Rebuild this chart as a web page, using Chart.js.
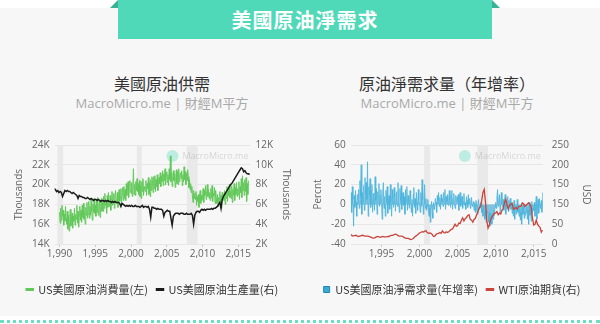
<!DOCTYPE html>
<html>
<head>
<meta charset="utf-8">
<script src="https://cdn.jsdelivr.net/npm/chart.js@4.4.1/dist/chart.umd.min.js"></script>
<style>
  body { margin: 0; width: 600px; height: 324px; background: #fff; position: relative; overflow: hidden;
         font-family: 'Noto Sans CJK TC', 'Open Sans', sans-serif; }
  .panel { position: absolute; left: 0; top: 8px; width: 600px; height: 308px; background: #f7f7f7; }
  .banner { position: absolute; left: 118px; top: 0; width: 374px; height: 39px; background: #4fd9b9;
            color: #fff; font-size: 20px; font-weight: bold; text-align: center; line-height: 39px; letter-spacing: 1px; }
  .fold-l { position: absolute; left: 110px; top: 0; width: 0; height: 0;
            border-bottom: 8px solid #37b294; border-left: 8px solid transparent; }
  .fold-r { position: absolute; left: 492px; top: 0; width: 0; height: 0;
            border-bottom: 8px solid #37b294; border-right: 8px solid transparent; }
  .title { position: absolute; top: 73px; width: 300px; text-align: center; font-size: 16px; line-height: 20px; color: #333; }
  .sub { position: absolute; top: 95px; width: 300px; text-align: center; font-size: 13px; line-height: 16px; color: #a9a9a9;
         font-family: 'Open Sans', 'Noto Sans CJK TC', sans-serif; }
  .box { position: absolute; top: 118px; width: 300px; height: 198px; }
  .dots { position: absolute; left: 0; top: 320px; width: 600px; border-top: 3px dotted #6fdcc6; }
</style>
</head>
<body>
<div class="panel"></div>
<div class="fold-l"></div>
<div class="fold-r"></div>
<div class="banner">美國原油淨需求</div>
<div class="title" style="left:12px">美國原油供需</div>
<div class="sub" style="left:12px">MacroMicro.me | 財經M平方</div>
<div class="title" style="left:297px">原油淨需求量（年增率）</div>
<div class="sub" style="left:297px">MacroMicro.me | 財經M平方</div>
<div class="box" style="left:0"><canvas id="supply" width="300" height="198"></canvas></div>
<div class="box" style="left:300px"><canvas id="netDemand" width="300" height="198"></canvas></div>
<div class="dots"></div>

<script>
// ---- left chart: US consumption (monthly from 1990), thousand b/d
const consumptionStart = 1990;
const consumption = [
  17.2,16.1,17.6,16.4,17.9,16.8,17.4,15.9,17.0,16.3,17.8,16.6,
  16.0,17.3,15.5,16.9,15.3,16.6,17.5,15.8,16.4,17.1,15.6,16.8,
  16.3,17.6,15.9,17.0,16.5,17.9,16.1,17.3,15.7,16.9,17.8,16.4,
  17.4,16.2,17.9,16.7,18.1,16.5,17.2,16.0,17.7,16.9,18.2,16.6,
  17.0,18.3,16.6,17.8,16.9,18.5,17.3,16.4,18.0,17.2,18.6,17.1,
  17.9,16.8,18.4,17.2,18.7,16.9,17.6,18.3,16.7,17.8,18.6,17.3,
  18.4,17.3,18.8,17.6,19.1,17.9,18.2,17.1,18.9,17.7,19.2,18.0,
  17.8,18.9,17.4,18.6,19.3,17.9,18.5,19.1,17.6,18.8,19.4,18.2,
  18.1,19.2,17.7,18.9,19.5,18.3,18.7,19.6,18.0,19.0,19.7,18.4,
  19.8,18.6,19.5,18.4,20.1,18.9,19.6,20.3,18.7,19.9,20.4,19.2,
  19.1,20.2,18.8,19.7,21.6,19.0,20.0,18.9,20.3,19.4,20.6,19.3,
  20.1,19.0,20.4,18.8,19.9,18.6,20.3,19.3,20.6,18.9,19.8,19.5,
  19.3,20.4,18.9,20.1,19.6,20.7,19.0,20.2,18.8,20.5,19.4,20.8,
  20.3,19.2,20.8,19.6,20.9,19.3,20.5,19.8,21.0,19.4,20.2,20.7,
  20.1,21.2,19.8,20.9,20.3,21.4,19.9,21.1,20.4,21.6,20.0,21.0,
  21.3,20.2,21.0,19.9,21.6,20.5,22.9,20.3,21.2,19.8,20.9,21.4,
  20.4,21.1,19.7,20.8,21.5,20.1,21.3,20.0,21.6,20.3,20.9,21.2,
  20.6,21.4,19.9,21.0,20.3,21.8,20.5,21.3,20.0,21.1,20.4,21.5,
  20.8,19.7,20.5,19.5,20.1,19.2,19.8,18.9,18.2,19.4,18.6,19.1,
  18.5,19.3,17.9,18.8,18.3,19.0,17.7,18.7,19.4,18.1,18.9,18.4,
  18.7,19.6,18.2,19.4,18.9,19.9,18.5,19.3,20.0,18.8,19.5,18.6,
  19.2,18.4,19.6,18.7,19.9,18.3,19.1,18.9,19.7,18.1,19.4,18.6,
  18.1,19.0,17.8,18.7,18.3,19.3,18.0,18.9,17.6,19.2,18.5,18.8,
  18.4,19.4,18.0,19.1,18.6,19.8,18.3,19.5,18.9,20.0,18.7,19.3,
  18.6,19.9,18.2,19.5,18.9,20.1,18.4,19.7,19.0,20.2,18.8,19.6,
  19.0,20.3,18.5,19.8,19.2,20.6,18.7,20.9,19.4,20.2,18.9,20.5,
  19.3,20.7,18.3,20.1,19.0,20.4
];

// US crude production, every two months from 1989.25, thousand b/d
const productionStart = 1989.25;
const production = [
  7.6,7.5,7.3,7.4,7.2,
  7.3,7.2,6.8,7.1,7.4,7.3,
  7.4,7.3,7.3,7.2,7.1,7.2,
  7.1,7.0,6.9,6.6,6.9,6.8,
  6.8,6.7,6.7,6.6,6.6,6.7,
  6.6,6.5,6.6,6.5,6.4,6.5,
  6.5,6.4,6.5,6.4,6.3,6.4,
  6.4,6.3,6.4,6.3,6.4,6.3,
  6.3,6.2,6.3,6.2,6.3,6.2,
  6.2,6.2,6.1,5.8,6.1,6.0,
  5.9,5.8,5.9,5.8,5.9,5.8,
  5.9,5.8,5.8,5.9,5.8,5.8,
  5.8,5.7,5.8,5.9,5.7,5.8,
  5.8,5.7,5.8,5.5,4.7,5.7,
  5.7,5.6,5.6,5.5,5.6,5.5,
  5.5,5.5,5.4,4.8,5.2,5.3,
  5.4,5.3,5.3,4.6,3.9,4.8,
  5.0,5.1,5.1,5.1,5.0,5.1,
  5.1,5.1,5.0,5.0,5.1,5.0,
  5.0,5.0,5.1,4.9,4.0,4.9,
  5.2,5.3,5.3,5.2,5.4,5.5,
  5.4,5.5,5.4,5.5,5.5,5.5,
  5.5,5.6,5.5,5.6,5.6,5.7,
  5.8,6.0,6.2,5.6,6.5,6.8,
  7.0,7.2,7.4,7.6,7.8,8.0,
  8.1,8.3,8.5,8.7,8.9,9.1,
  9.3,9.5,9.7,9.6,9.3,9.4,
  9.2,9.1,9.1,9.0
];

// ---- right chart: net demand YoY % (monthly from 1991) and WTI USD (every two months from 1991)
const netDemandStart = 1991;
const netDemandYoY = [
  12,-8,18,5,-22,9,-3,14,2,-12,10,6,
  15,-4,24,8,40,-10,12,3,19,-6,27,10,
  22,5,43,-12,18,9,26,-3,14,20,-8,11,
  10,-6,28,4,16,-10,13,7,21,-2,9,15,
  6,-15,12,22,-4,8,-12,14,3,18,-9,5,
  9,-5,20,2,-12,15,6,-3,17,8,-7,11,
  13,-2,22,6,-8,16,4,19,-5,10,12,-1,
  8,-10,15,3,18,-6,9,2,-4,14,6,-8,
  5,-12,10,17,-3,6,-9,12,1,-6,15,4,
  3,-8,12,-2,25,5,-10,8,20,-4,6,-6,
  -2,5,-7,-12,-4,-18,-6,3,-9,-14,2,-5,
  -3,6,2,-8,9,4,12,-2,7,-5,10,3,
  6,-2,12,4,15,-5,8,3,10,-1,7,14,
  5,-3,10,14,-5,6,11,2,-4,9,3,8,
  4,10,-6,7,12,-2,5,8,-4,3,11,-1,
  2,-5,8,4,-3,10,1,6,-4,3,7,-2,
  -1,3,-6,2,-8,4,-3,-10,1,5,-5,-2,
  -3,2,-8,-5,-12,-2,-9,-15,-6,-18,-10,-7,
  -12,-18,-8,-22,-14,-10,-20,-9,-15,-6,-11,-3,
  2,-4,8,15,-2,6,10,-8,4,12,1,-3,
  5,-6,3,10,-10,2,-4,8,-7,4,-2,6,
  -5,2,-9,-3,-12,4,-15,-6,-2,-10,5,-8,
  -6,-12,-4,-16,-8,-20,-3,-10,0,-14,-7,-11,
  -8,-3,-15,-6,-20,2,-11,-5,-17,3,-9,-4,
  -6,2,-12,-3,8,-15,-2,5,-9,6,-4,-1,
  4,-8,12
];

const wtiStart = 1991;
const wtiPrice = [
  24,20,21,21,22,20,
  19,20,21,22,21,20,
  20,20,19,18,17,15,
  15,16,18,19,18,17,
  18,19,18,18,18,19,
  19,21,22,22,24,25,
  24,21,20,20,20,19,
  16,15,14,14,13,11,
  12,14,17,20,22,25,
  28,29,31,30,32,34,
  29,27,28,27,24,19,
  20,24,26,27,29,27,
  33,29,28,31,29,31,
  34,37,38,44,50,45,
  46,53,52,60,66,58,
  64,67,72,74,62,60,
  55,62,65,74,80,92,
  94,110,130,138,105,60,
  40,48,62,68,72,78,
  78,82,74,78,76,85,
  90,105,113,98,88,98,
  100,103,88,90,92,88,
  94,95,95,104,102,95,
  98,101,104,100,93,66,
  48,50,60,50,45,42,
  30,35
];

const leftYears = [1990, 1995, 2000, 2005, 2010, 2015];
const rightYears = [1995, 2000, 2005, 2010, 2015];
const consumptionTicks = [14, 16, 18, 20, 22, 24];
const productionTicks = [2, 4, 6, 8, 10, 12];
const percentTicks = [-40, -20, 0, 20, 40, 60];
const usdTicks = [0, 50, 100, 150, 200, 250];
const usdTickLabels = ['0', '50', '150', '150', '200', '250'];
const leftRecessions = [[1989.7, 1990.5], [2000.8, 2001.5], [2007.8, 2009.3]];
const rightRecessions = [[2000.6, 2001.4], [2007.6, 2009.0]];

const LATIN = "'Open Sans', 'Noto Sans CJK TC', sans-serif";
const CJK = "'Noto Sans CJK TC', 'Open Sans', sans-serif";

function toPoints(start, step, values) {
  return values.map((v, i) => ({ x: start + i * step, y: v }));
}

function bandsAndMark(ranges) {
  return {
    id: 'bandsAndMark',
    beforeDatasetsDraw(chart) {
      const { ctx, chartArea: a, scales } = chart;
      ctx.save();
      ctx.fillStyle = '#e9e9e9';
      ranges.forEach(r => {
        const x1 = scales.x.getPixelForValue(r[0]);
        const x2 = scales.x.getPixelForValue(r[1]);
        ctx.fillRect(x1, a.top, x2 - x1, a.bottom - a.top);
      });
      // watermark
      const cx = a.right - 78, cy = a.top + 11;
      ctx.fillStyle = 'rgba(79, 217, 185, 0.35)';
      ctx.beginPath();
      ctx.arc(cx, cy, 6, 0, Math.PI * 2);
      ctx.fill();
      ctx.fillStyle = 'rgba(0, 0, 0, 0.14)';
      ctx.font = '9px ' + LATIN;
      ctx.textBaseline = 'middle';
      ctx.fillText('MacroMicro.me', cx + 10, cy);
      ctx.restore();
    }
  };
}

const legendOpts = {
  position: 'bottom',
  labels: {
    usePointStyle: true,
    boxHeight: 6,
    boxWidth: 6,
    padding: 9,
    color: '#333',
    font: { size: 11, family: CJK },
    generateLabels(chart) {
      return chart.data.datasets.map((ds, i) => ({
        text: ds.label,
        datasetIndex: i,
        fillStyle: ds.legendFill || ds.borderColor,
        strokeStyle: ds.legendStroke || ds.borderColor,
        lineWidth: ds.legendStyle === 'rect' ? 1 : 3,
        pointStyle: ds.legendStyle || 'line',
        fontColor: '#333',
        hidden: false
      }));
    }
  }
};

function xAxis(min, max, years) {
  return {
    type: 'linear', min: min, max: max,
    afterBuildTicks: axis => { axis.ticks = years.map(v => ({ value: v })); },
    afterFit: axis => { axis.height += 14; },
    grid: { drawOnChartArea: false, drawTicks: true, tickLength: 3, color: '#c8c8c8' },
    border: { display: false },
    ticks: { padding: 1, color: '#666', font: { size: 10, family: LATIN }, maxRotation: 0 }
  };
}

function yAxis(pos, min, max, ticks, label, cb, onArea, pad) {
  return {
    position: pos, min: min, max: max,
    afterBuildTicks: axis => { axis.ticks = ticks.map(v => ({ value: v })); },
    grid: { drawOnChartArea: onArea, drawTicks: false, color: '#e6e6e6' },
    border: { display: false },
    title: { display: true, text: label, color: '#666', font: { size: 10, family: LATIN }, padding: { top: 2, bottom: 2 } },
    ticks: { padding: pad || 5, color: '#666', font: { size: 10, family: LATIN }, callback: cb }
  };
}

Chart.defaults.animation = false;

new Chart(document.getElementById('supply'), {
  type: 'line',
  data: {
    datasets: [
      {
        label: 'US美國原油消費量(左)',
        data: toPoints(consumptionStart, 1 / 12, consumption),
        borderColor: '#62c85a', borderWidth: 1, pointRadius: 0, yAxisID: 'y', order: 2
      },
      {
        label: 'US美國原油生產量(右)',
        data: toPoints(productionStart, 1 / 6, production),
        borderColor: '#1b1b1b', borderWidth: 1.5, pointRadius: 0, yAxisID: 'y1', order: 1
      }
    ]
  },
  options: {
    responsive: false,
    devicePixelRatio: 1,
    layout: { padding: { left: 11, right: 6, top: 27, bottom: 11 } },
    plugins: { legend: legendOpts, tooltip: { enabled: false } },
    scales: {
      x: xAxis(1989.3, 2016.7, leftYears),
      y: yAxis('left', 14, 24, consumptionTicks, 'Thousands', v => v + 'K', true),
      y1: yAxis('right', 2, 12, productionTicks, 'Thousands', v => v + 'K', false)
    }
  },
  plugins: [bandsAndMark(leftRecessions)]
});

new Chart(document.getElementById('netDemand'), {
  type: 'line',
  data: {
    datasets: [
      {
        label: 'US美國原油淨需求量(年增率)',
        data: toPoints(netDemandStart, 1 / 12, netDemandYoY),
        borderColor: '#4cb4dc', borderWidth: 0.8, backgroundColor: 'rgba(40, 160, 208, 0.6)',
        fill: 'origin', pointRadius: 0, yAxisID: 'y', order: 2,
        legendStyle: 'rect', legendFill: '#3aaad4', legendStroke: '#1f86b0'
      },
      {
        label: 'WTI原油期貨(右)',
        data: toPoints(wtiStart, 1 / 6, wtiPrice),
        borderColor: '#c9443a', borderWidth: 1.3, pointRadius: 0, yAxisID: 'y1', order: 1
      }
    ]
  },
  options: {
    responsive: false,
    devicePixelRatio: 1,
    layout: { padding: { left: 10, right: 6, top: 27, bottom: 11 } },
    plugins: { legend: legendOpts, tooltip: { enabled: false } },
    scales: {
      x: xAxis(1990.95, 2016.2, rightYears),
      y: yAxis('left', -40, 60, percentTicks, 'Percnt', v => v, true),
      y1: yAxis('right', 0, 250, usdTicks, 'USD', (v, i) => usdTickLabels[i], false, 9)
    }
  },
  plugins: [bandsAndMark(rightRecessions)]
});
</script>
</body>
</html>
